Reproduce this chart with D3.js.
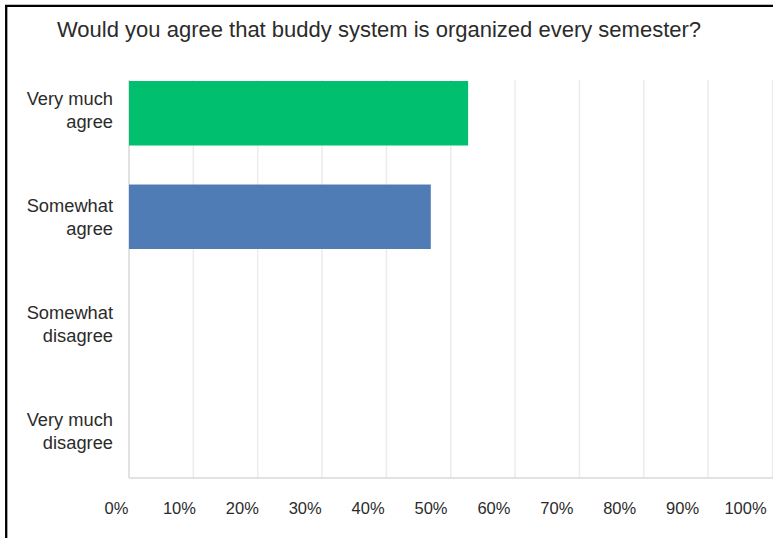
<!DOCTYPE html>
<html>
<head>
<meta charset="utf-8">
<script src="https://cdn.jsdelivr.net/npm/d3@7"></script>
<style>
  body { margin: 0; background: #fff; }
  text { font-family: "Liberation Sans", Arial, sans-serif; fill: #2b2b2b; }
</style>
</head>
<body>
<script>
// data
const categories = ['Very much agree', 'Somewhat agree', 'Somewhat disagree', 'Very much disagree']
const labelLines = [['Very much', 'agree'], ['Somewhat', 'agree'], ['Somewhat', 'disagree'], ['Very much', 'disagree']]
const values = [52.7, 46.9, 0, 0]
const barColors = ['#00bf6f', '#507cb6', '#507cb6', '#507cb6']
const ticks = [0, 10, 20, 30, 40, 50, 60, 70, 80, 90, 100]
const title = 'Would you agree that buddy system is organized every semester?'

let width = 773,
    height = 538,
    svg = d3.select('body').append('svg')
        .attr('width', width)
        .attr('height', height)

let plotTop = 80,
    plotBottom = 478

//x scale: 0% at the y axis, 100% at the right edge (clipped)
var xScale = d3.scaleLinear()
    .domain([0, 100])
    .range([129, 772.5])

//tick labels sit a bit left of their gridlines in the original
var labelScale = d3.scaleLinear()
    .domain([0, 100])
    .range([116, 745])

//bars: step ~103.5, bar ~64px
var yScale = d3.scaleBand()
    .domain(categories)
    .range([42, 495])
    .paddingInner(0.377)
    .paddingOuter(0.377)

var yLabel = d3.scalePoint()
    .domain(categories)
    .range([109.5, 430.5])

//gridlines
svg.append('g')
    .selectAll('line').data(ticks.slice(1)).enter()
    .append('line')
    .attr('x1', d => xScale(d)).attr('x2', d => xScale(d))
    .attr('y1', plotTop).attr('y2', plotBottom)
    .attr('stroke', '#ececec')
    .attr('stroke-width', 1.5)

//axis lines
svg.append('line')
    .attr('x1', xScale(0)).attr('x2', xScale(0))
    .attr('y1', plotTop).attr('y2', plotBottom)
    .attr('stroke', '#d9d9d9').attr('stroke-width', 1.5)
svg.append('line')
    .attr('x1', xScale(0)).attr('x2', width)
    .attr('y1', plotBottom).attr('y2', plotBottom)
    .attr('stroke', '#d9d9d9').attr('stroke-width', 1.5)

//bars
svg.selectAll('rect.bar').data(categories).enter()
    .append('rect')
    .attr('class', 'bar')
    .attr('x', xScale(0))
    .attr('y', d => yScale(d))
    .attr('height', yScale.bandwidth())
    .attr('width', (d, i) => xScale(values[i]) - xScale(0))
    .attr('fill', (d, i) => barColors[i])

//category labels (two lines, right aligned)
var catText = svg.selectAll('text.cat').data(categories).enter()
    .append('text')
    .attr('class', 'cat')
    .attr('text-anchor', 'end')
    .attr('font-size', 18.3)
    .attr('y', d => yLabel(d) - 5)

catText.selectAll('tspan').data((d, i) => labelLines[i]).enter()
    .append('tspan')
    .attr('x', 113)
    .attr('dy', (d, i) => i ? 23 : 0)
    .text(d => d)

//x axis labels
var xAxis = d3.axisBottom(labelScale)
    .tickValues(ticks)
    .tickFormat(d => d + '%')
    .tickSize(0)
    .tickPadding(0)

svg.append('g')
    .attr('transform', 'translate(0,502)')
    .call(xAxis)
    .call(g => g.select('.domain').remove())
    .selectAll('text')
    .attr('font-size', 16.5)
    .attr('fill', '#2b2b2b')
    .style('font-family', '"Liberation Sans", Arial, sans-serif')

//title
svg.append('text')
    .attr('x', 57)
    .attr('y', 37)
    .attr('font-size', 22)
    .text(title)

//frame (only top and left edges show)
svg.append('line')
    .attr('x1', 5).attr('x2', width)
    .attr('y1', 5.8).attr('y2', 5.8)
    .attr('stroke', '#000').attr('stroke-width', 2.3)
svg.append('line')
    .attr('x1', 6.2).attr('x2', 6.2)
    .attr('y1', 5).attr('y2', height)
    .attr('stroke', '#000').attr('stroke-width', 2.3)
</script>
</body>
</html>
